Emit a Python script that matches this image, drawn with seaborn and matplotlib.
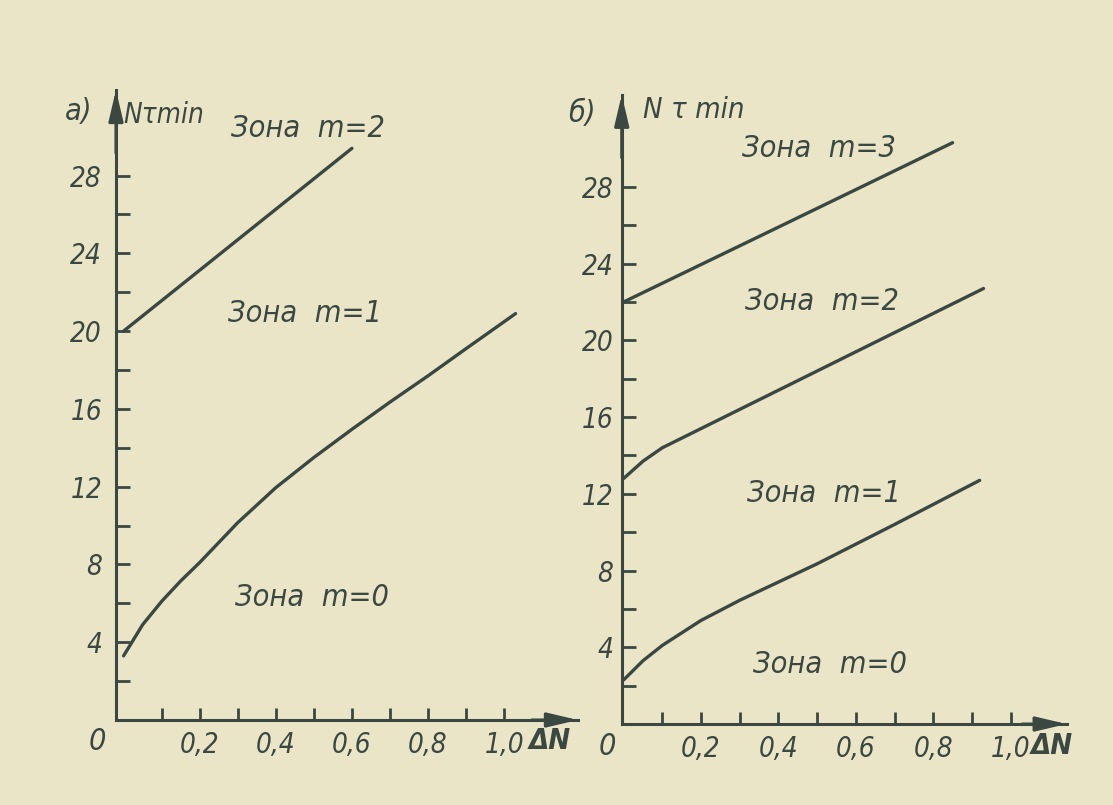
import numpy as np
import pandas as pd
import matplotlib
matplotlib.use("Agg")
import matplotlib.pyplot as plt
import seaborn as sns

# panel а)
a_m2_x = [0.0, 0.3, 0.6]
a_m2_y = [20.0, 24.7, 29.4]
a_m1_x = [0.0, 0.05, 0.1, 0.15, 0.2, 0.3, 0.4, 0.5, 0.6, 0.7, 0.8, 0.9, 1.03]
a_m1_y = [3.3, 4.9, 6.1, 7.15, 8.1, 10.15, 11.95, 13.5, 14.95, 16.35, 17.7, 19.1, 20.9]

# panel б)
b_m3_x = [0.0, 0.4, 0.85]
b_m3_y = [22.0, 25.9, 30.3]
b_m2_x = [0.0, 0.05, 0.1, 0.2, 0.3, 0.45, 0.6, 0.7, 0.93]
b_m2_y = [12.8, 13.7, 14.4, 15.4, 16.4, 17.9, 19.4, 20.4, 22.7]
b_m1_x = [0.0, 0.05, 0.1, 0.2, 0.3, 0.4, 0.5, 0.7, 0.92]
b_m1_y = [2.3, 3.3, 4.1, 5.4, 6.45, 7.4, 8.35, 10.4, 12.7]

y_major = [4, 8, 12, 16, 20, 24, 28]
y_minor = [2, 6, 10, 14, 18, 22, 26]
x_major = [0.2, 0.4, 0.6, 0.8, 1.0]
x_minor = [0.1, 0.3, 0.5, 0.7, 0.9]
x_labels = ["0,2", "0,4", "0,6", "0,8", "1,0"]

paper = "#ebe5c8"
ink = "#3a4841"

sns.set_style("ticks")
plt.rcParams["font.family"] = ["DejaVu Sans"]
plt.rcParams["font.style"] = "italic"
plt.rcParams["font.stretch"] = "condensed"

fig = plt.figure(figsize=(11.13, 8.05), dpi=100, facecolor=paper)
ax_a = fig.add_axes([0.1042, 0.1056, 0.4151, 0.7826])
ax_b = fig.add_axes([0.5586, 0.1006, 0.3998, 0.7817])

arrow = dict(arrowstyle="-|>,head_length=0.85,head_width=0.2", color=ink,
             lw=2.2, mutation_scale=22, shrinkA=0, shrinkB=0)


def style_axes(ax, xlim, ylim, ypad):
    ax.set_facecolor("none")
    ax.set_xlim(*xlim)
    ax.set_ylim(*ylim)
    for s in ["top", "right"]:
        ax.spines[s].set_visible(False)
    for s in ["left", "bottom"]:
        ax.spines[s].set_color(ink)
        ax.spines[s].set_linewidth(2.2)
    ax.set_yticks(y_major)
    ax.set_yticks(y_minor, minor=True)
    ax.set_yticklabels([str(v) for v in y_major])
    ax.set_xticks(x_major)
    ax.set_xticks(x_minor, minor=True)
    ax.set_xticklabels(x_labels)
    ax.tick_params(axis="y", which="both", direction="in", length=10, width=2,
                   color=ink, labelcolor=ink, labelsize=20, pad=ypad)
    ax.tick_params(axis="x", which="both", direction="in", length=9, width=2,
                   color=ink, labelcolor=ink, labelsize=20, pad=8)
    ax.set_xlabel("")
    ax.set_ylabel("")
    ax.annotate("", xy=(1, 0), xytext=(0.9, 0), xycoords="axes fraction", arrowprops=arrow)
    ax.annotate("", xy=(0, 1), xytext=(0, 0.9), xycoords="axes fraction", arrowprops=arrow)


for x, y in [(a_m2_x, a_m2_y), (a_m1_x, a_m1_y)]:
    sns.lineplot(x=x, y=y, ax=ax_a, color=ink, linewidth=2.4, sort=False, clip_on=False)
for x, y in [(b_m3_x, b_m3_y), (b_m2_x, b_m2_y), (b_m1_x, b_m1_y)]:
    sns.lineplot(x=x, y=y, ax=ax_b, color=ink, linewidth=2.4, sort=False, clip_on=False)

style_axes(ax_a, (-0.02, 1.194), (0, 32.4), 10)
style_axes(ax_b, (-0.005, 1.145), (0, 32.8), 6)

tk = dict(color=ink, fontsize=22, ha="center", va="center")
ax_a.text(0.485, 30.4, "Зона  m=2", **tk)
ax_a.text(0.476, 20.9, "Зона  m=1", **tk)
ax_a.text(0.495, 6.3, "Зона  m=0", **tk)
ax_a.text(-0.117, 31.3, "а)", **tk)
ax_a.text(0.0, 31.1, "Nτmin", color=ink, fontsize=20, ha="left", va="center")
ax_a.text(-0.07, -1.1, "0", **tk)
ax_a.text(1.12, -1.1, "ΔN", color=ink, fontsize=21, fontweight="bold", ha="center", va="center")

ax_b.text(0.504, 30.0, "Зона  m=3", **tk)
ax_b.text(0.512, 22.0, "Зона  m=2", **tk)
ax_b.text(0.517, 12.0, "Зона  m=1", **tk)
ax_b.text(0.533, 3.1, "Зона  m=0", **tk)
ax_b.text(-0.109, 31.8, "б)", **tk)
ax_b.text(0.05, 32.0, "N τ min", color=ink, fontsize=21, ha="left", va="center")
ax_b.text(-0.041, -1.15, "0", **tk)
ax_b.text(1.107, -1.15, "ΔN", color=ink, fontsize=21, fontweight="bold", ha="center", va="center")

fig.savefig("out.png", dpi=100, facecolor=paper)
